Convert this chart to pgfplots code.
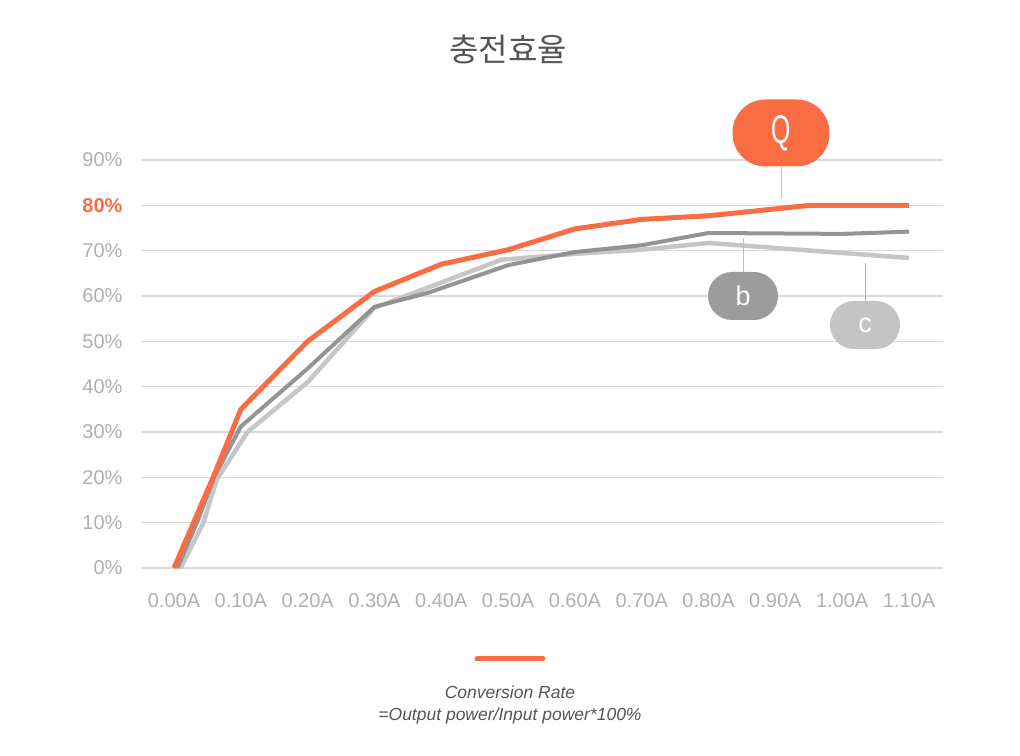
\documentclass[border=0pt]{standalone}
\usepackage{pgfplots}
\pgfplotsset{compat=1.18}
\usepackage{fontspec}
\setmainfont{Liberation Sans}
\newfontfamily\cjk{Noto Sans CJK KR}

\definecolor{chartorange}{HTML}{FA6C44}
\definecolor{darkline}{HTML}{8E8E8E}
\definecolor{lightline}{HTML}{C6C6C6}
\definecolor{gridgray}{HTML}{DADADA}
\definecolor{labelgray}{HTML}{B0B0B0}
\definecolor{titlegray}{HTML}{555555}
\definecolor{bfill}{HTML}{9C9C9C}
\definecolor{cfill}{HTML}{C4C4C4}

\begin{document}
\begin{tikzpicture}[x=1pt,y=1pt]
\useasboundingbox (0,0) rectangle (1020,755);

% title
\node[font=\cjk\fontsize{32}{38}\selectfont, text=titlegray] at (508,706) {충전효율};

\begin{axis}[
    at={(142pt,187pt)}, anchor=south west,
    scale only axis, width=801pt, height=408pt,
    xmin=-0.0479, xmax=1.1509,
    ymin=0, ymax=90,
    clip=false,
    axis line style={draw=none},
    ymajorgrids=true,
    grid style={gridgray, line width=1.2pt},
    xtick pos=left,
    xtick={0,0.1,0.2,0.3,0.4,0.5,0.6,0.7,0.8,0.9,1.0,1.1},
    xticklabels={0.00A,0.10A,0.20A,0.30A,0.40A,0.50A,0.60A,0.70A,0.80A,0.90A,1.00A,1.10A},
    xtick style={draw=none},
    extra x ticks={0.1,0.2,0.3,0.4,0.5,0.6,0.7,0.8,0.9,1.0,1.1},
    extra x tick labels={},
    extra x tick style={grid=none, tick align=inside, major tick length=13pt,
        tick style={draw=gridgray, line width=1.2pt}},
    ytick={0,10,20,30,40,50,60,70,80,90},
    yticklabels={0\%,10\%,20\%,30\%,40\%,50\%,60\%,70\%,{\textcolor{chartorange}{\textbf{80\%}}},90\%},
    ytick style={draw=none},
    ticklabel style={font=\fontsize{20}{24}\selectfont, text=labelgray},
    yticklabel style={anchor=east, xshift=-16pt},
    xticklabel style={anchor=north, yshift=-22pt},
]
% c
\addplot[lightline, line width=4.5pt, line join=round] coordinates {
    (0.01,0) (0.044,10) (0.064,19.5) (0.11,30) (0.2,41) (0.3,57.4)
    (0.49,68) (0.6,69.3) (0.7,70.2) (0.8,71.7) (1.0,69.5) (1.1,68.4)
};
% b
\addplot[darkline, line width=4pt, line join=round, opacity=0.95] coordinates {
    (0.005,0) (0.036,10.6) (0.06,20) (0.1,31.2) (0.2,44) (0.3,57.6)
    (0.38,60.7) (0.5,66.8) (0.6,69.7) (0.7,71.2) (0.8,73.9) (1.0,73.7) (1.1,74.2)
};
% Q
\addplot[chartorange, line width=5pt, line join=round] coordinates {
    (0,0) (0.06,20.5) (0.1,35) (0.2,50) (0.3,61) (0.4,67) (0.5,70.2)
    (0.6,74.8) (0.7,76.9) (0.8,77.7) (0.952,80) (1.1,80)
};
\end{axis}

% callouts
\draw[draw=gridgray!70!chartorange, line width=1pt] (781,588) -- (781,557);
\node[fill=chartorange, rounded corners=33pt, minimum width=97pt, minimum height=67pt,
    text=white, font=\fontsize{40}{46}\selectfont, inner sep=0pt] at (781,622)
    {\scalebox{0.62}[1]{Q}};
\draw[draw=labelgray!80, line width=1pt] (743,517) -- (743,483);
\node[fill=bfill, rounded corners=24pt, minimum width=70pt, minimum height=48pt,
    text=white, font=\fontsize{27}{30}\selectfont, inner sep=0pt] at (743,459) {b};
\draw[draw=labelgray, line width=1pt] (865,492) -- (865,454);
\node[fill=cfill, rounded corners=24pt, minimum width=70pt, minimum height=48pt,
    text=white, font=\fontsize{27}{30}\selectfont, inner sep=0pt] at (865,430) {c};

% legend
\draw[chartorange, line width=5pt, line cap=round] (477,96) -- (543,96);
\node[text=titlegray, font=\itshape\fontsize{17.5}{22}\selectfont, align=center] at (510,50)
    {Conversion Rate\\=Output power/Input power*100\%};
\end{tikzpicture}
\end{document}
